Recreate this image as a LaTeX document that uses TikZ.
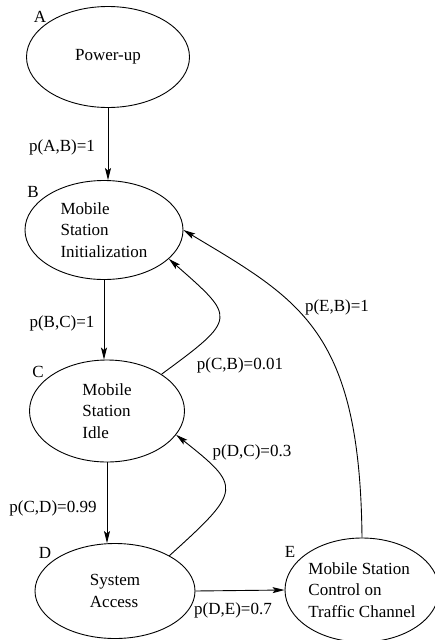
\documentclass[tikz,border=0pt]{standalone}
\usepackage{fontspec}
\setmainfont{Liberation Serif}
\usetikzlibrary{shapes.geometric,arrows.meta}

\begin{document}
\begin{tikzpicture}[x=1pt,y=1pt,yscale=-1,xscale=1,
  state/.style={draw,ellipse,line width=0.9pt,inner sep=0pt,align=left,font=\fontsize{17}{21.5}\selectfont},
  txt/.style={inner sep=0pt,font=\fontsize{17}{21.5}\selectfont},
  flow/.style={line width=0.9pt,-{Stealth[length=12pt,width=6pt,inset=2.5pt]}}]
\useasboundingbox (0,0) rectangle (435,640);

%Shape: Ellipse [id:A]
\node[state,minimum width=163,minimum height=101] (A) at (108,57) {Power-up};
%Shape: Ellipse [id:B]
\node[state,minimum width=158,minimum height=99] (B) at (104,230) {Mobile\\Station\\Initialization};
%Shape: Ellipse [id:C]
\node[state,minimum width=155,minimum height=102] (C) at (107,411) {Mobile\\Station\\Idle};
%Shape: Ellipse [id:D]
\node[state,minimum width=160,minimum height=95] (D) at (115,591) {System\\Access};
%Shape: Ellipse [id:E]
\node[state,minimum width=154,minimum height=104] (E) at (362,590) {Mobile Station\\Control on\\Traffic Channel};

%State letters
\node[txt] (lA) at (40,17) {A};
\node[txt] (lB) at (33,192) {B};
\node[txt] (lC) at (38,372) {C};
\node[txt] (lD) at (45,553) {D};
\node[txt] (lE) at (290,552) {E};

%Straight Lines
\draw[flow] (A.south) -- (A.south |- B.north);
\draw[flow] (B.south) -- (B.south |- C.north);
\draw[flow] (C.south) -- (C.south |- D.north);
\draw[flow] (D.east) -- (E.west);

%Curve Lines
\draw[flow] (C.34) .. controls (238,318) and (236,318) .. (B.-24);
\draw[flow] (E.north) .. controls (360,330) and (300,300) .. (B.east);
\draw[flow] (D.33) .. controls (242,490) and (242,487) .. (C.-19);

%Transition labels
\node[txt] (pAB) at (62,147) {p(A,B)=1};
\node[txt] (pBC) at (62,323) {p(B,C)=1};
\node[txt] (pCD) at (53,508) {p(C,D)=0.99};
\node[txt] (pCB) at (240,365) {p(C,B)=0.01};
\node[txt] (pEB) at (337,307) {p(E,B)=1};
\node[txt] (pDC) at (252,452) {p(D,C)=0.3};
\node[txt] (pDE) at (233,610) {p(D,E)=0.7};

\end{tikzpicture}
\end{document}
